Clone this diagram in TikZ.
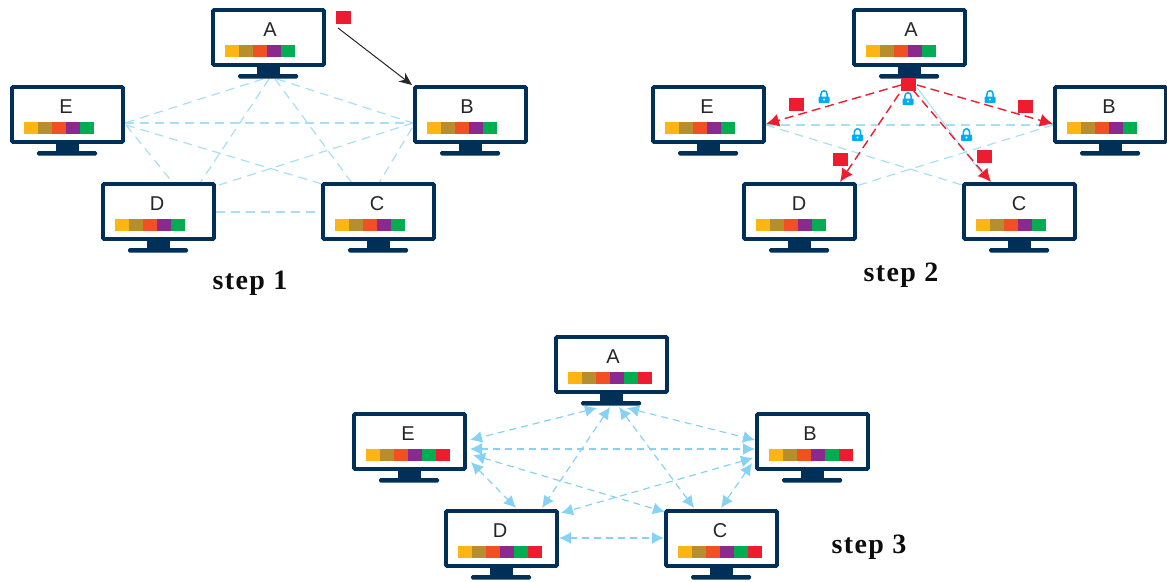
\documentclass[tikz,border=0pt]{standalone}
\usepackage{fontspec}
\setmainfont{Liberation Sans}
\newfontfamily\stepfont[LetterSpace=5]{Liberation Serif}
\usetikzlibrary{arrows.meta}
\definecolor{navy}{HTML}{003057}
\definecolor{barA}{HTML}{FDB515}
\definecolor{barB}{HTML}{B78E2E}
\definecolor{barC}{HTML}{F15023}
\definecolor{barD}{HTML}{8A2A8E}
\definecolor{barE}{HTML}{00AD50}
\definecolor{barF}{HTML}{ED1C2E}
\definecolor{pale}{HTML}{A6DFF6}
\definecolor{arrowblue}{HTML}{86D2F5}
\definecolor{lockblue}{HTML}{00AEEF}
\tikzset{
  screen/.style={draw=navy,line width=3.8pt,minimum width=111pt,minimum height=55pt,inner sep=0pt,outer sep=0pt,rounded corners=1pt,fill=white},
  maclabel/.style={font=\fontsize{20}{22}\selectfont,text=black!85,inner sep=0pt},
  steplabel/.style={font=\stepfont\bfseries\fontsize{28}{30}\selectfont,text=black!95,inner sep=0pt},
  packet/.style={fill=barF,minimum width=15pt,minimum height=13pt,inner sep=0pt,outer sep=0pt},
  link/.style={draw=pale,line width=1.2pt,dash pattern=on 9pt off 6pt},
  redlink/.style={draw=barF,line width=1.4pt,dash pattern=on 9pt off 5pt,-{Latex[length=13pt,width=13pt]}},
  twoway/.style={draw=arrowblue,line width=1.2pt,dash pattern=on 7pt off 5pt,{Latex[length=12pt,width=12pt]}-{Latex[length=12pt,width=12pt]}},
  sendarrow/.style={draw=black!85,line width=1pt,-{Stealth[length=13pt,width=11pt]}},
}
% #1 name, #2 left, #3 top, #4 letter, #5 number of colours, #6 letter offset
\newcommand{\monitor}[6]{%
  \fill[navy] (#2+46,#3+57) rectangle (#2+69,#3+68);
  \fill[navy,rounded corners=1.5pt] (#2+27,#3+66) rectangle (#2+87,#3+70.5);
  \node[screen] (#1) at (#2+57.5,#3+29.5) {};
  \node[maclabel] (#1t) at (#2+#6,#3+22) {#4};
  \foreach \c [count=\i from 0] in {barA,barB,barC,barD,barE,barF}{
    \ifnum\i<#5\relax
      \fill[\c] (#2+14+14*\i,#3+37) rectangle (#2+28.2+14*\i,#3+48.5);
    \fi
  }%
}
\newcommand{\locksym}[2]{%
  \begin{scope}[shift={(#1,#2)}]
    \draw[lockblue,line width=1.5pt] (-3.2,0) -- (-3.2,-2.5) .. controls (-3.2,-7.5) and (3.2,-7.5) .. (3.2,-2.5) -- (3.2,0);
    \fill[lockblue,rounded corners=0.8pt] (-5.5,-0.5) rectangle (5.5,6);
    \fill[white] (0,2.5) circle (1.1pt);
  \end{scope}%
}
\begin{document}
\begin{tikzpicture}[x=1pt,y=-1pt]
\useasboundingbox (0,0) rectangle (1167,581);
% ---- step 1 connectors
\coordinate (a1e) at (263,79); \coordinate (a1b) at (277,79); \coordinate (a1d) at (269,79); \coordinate (a1c) at (275,79);
\coordinate (e1r) at (125,123); \coordinate (e1q) at (126,125);
\coordinate (b1l) at (413,123); \coordinate (b1q) at (412,128);
\coordinate (d1t) at (173,183); \coordinate (d1u) at (200,183); \coordinate (d1r) at (216,186); \coordinate (d1s) at (216,212);
\coordinate (c1l) at (322,184); \coordinate (c1t) at (352,183); \coordinate (c1u) at (379,183); \coordinate (c1s) at (322,212);
\draw[link] (a1e) -- (e1r);
\draw[link] (a1b) -- (b1l);
\draw[link] (a1d) -- (d1u);
\draw[link] (a1c) -- (c1t);
\draw[link] (e1r) -- (b1l);
\draw[link] (e1q) -- (d1t);
\draw[link] (e1q) -- (c1l);
\draw[link] (b1l) -- (d1r);
\draw[link] (b1q) -- (c1u);
\draw[link] (d1s) -- (c1s);
\monitor{sa}{211}{8}{A}{5}{59}
\monitor{se}{10}{85}{E}{5}{56}
\monitor{sb}{413}{85}{B}{5}{54}
\monitor{sd}{101}{182}{D}{5}{56}
\monitor{sc}{321}{182}{C}{5}{56}
\node[packet] (p1) at (343,17.5) {};
\coordinate (p1from) at (338,28);
\coordinate (p1to) at (412,85);
\draw[sendarrow] (p1from) -- (p1to);
\node[steplabel] (step1) at (250,283) {step 1};
% ---- step 2 connectors
\coordinate (e2r) at (766,125); \coordinate (b2l) at (1053,125);
\coordinate (c2l) at (962,185); \coordinate (d2r) at (856,186);
\coordinate (a2f) at (915,85); \coordinate (c2f) at (985,178);
\draw[link] (e2r) -- (b2l);
\draw[link] (e2r) -- (c2l);
\draw[link] (b2l) -- (d2r);
\draw[pale,line width=1pt] (a2f) -- (c2f);
\monitor{ta}{852}{8}{A}{5}{59}
\monitor{te}{651}{85}{E}{5}{56}
\monitor{tb}{1053}{85}{B}{5}{56}
\monitor{td}{742}{182}{D}{5}{57}
\monitor{tc}{962}{182}{C}{5}{57}
\coordinate (a2e) at (901,85); \coordinate (e2a) at (766,124);
\coordinate (a2b) at (917,85); \coordinate (b2a) at (1053,124);
\coordinate (a2d) at (899,94); \coordinate (d2a) at (840,182);
\coordinate (a2c) at (913,90); \coordinate (c2a) at (991,182);
\draw[redlink] (a2e) -- (e2a);
\draw[redlink] (a2b) -- (b2a);
\draw[redlink] (a2d) -- (d2a);
\draw[redlink] (a2c) -- (c2a);
\node[packet] (p2a) at (908.5,84) {};
\node[packet] (p2e) at (796.5,104) {};
\node[packet] (p2b) at (1025,106) {};
\node[packet] (p2d) at (840,159) {};
\node[packet] (p2c) at (984,156) {};
\locksym{824}{97}
\locksym{908}{99}
\locksym{990}{97}
\locksym{857.5}{135}
\locksym{966.5}{135}
\node[steplabel] (step2) at (901,275) {step 2};
% ---- step 3 connectors
\coordinate (a3e) at (597,408); \coordinate (e3a) at (470,440);
\coordinate (a3b) at (627,408); \coordinate (b3a) at (755,440);
\coordinate (a3d) at (610,407); \coordinate (d3a) at (542,508);
\coordinate (a3c) at (619,407); \coordinate (c3a) at (694,508);
\coordinate (e3b) at (470,449); \coordinate (b3e) at (755,449);
\coordinate (e3d) at (471,462); \coordinate (d3e) at (516,508);
\coordinate (e3c) at (473,455); \coordinate (c3e) at (665,512);
\coordinate (b3d) at (753,458); \coordinate (d3b) at (561,513);
\coordinate (b3c) at (752,463); \coordinate (c3b) at (721,508);
\coordinate (d3c) at (559,538); \coordinate (c3d) at (664,538);
\monitor{ua}{554}{335}{A}{6}{59}
\monitor{ue}{352}{412}{E}{6}{56}
\monitor{ub}{755}{412}{B}{6}{55}
\monitor{ud}{444}{509}{D}{6}{56}
\monitor{uc}{664}{509}{C}{6}{56}
\draw[twoway] (a3e) -- (e3a);
\draw[twoway] (a3b) -- (b3a);
\draw[twoway] (a3d) -- (d3a);
\draw[twoway] (a3c) -- (c3a);
\draw[twoway] (e3b) -- (b3e);
\draw[twoway] (e3d) -- (d3e);
\draw[twoway] (e3c) -- (c3e);
\draw[twoway] (b3d) -- (d3b);
\draw[twoway] (b3c) -- (c3b);
\draw[twoway] (d3c) -- (c3d);
\node[steplabel] (step3) at (869,547) {step 3};
\end{tikzpicture}
\end{document}
